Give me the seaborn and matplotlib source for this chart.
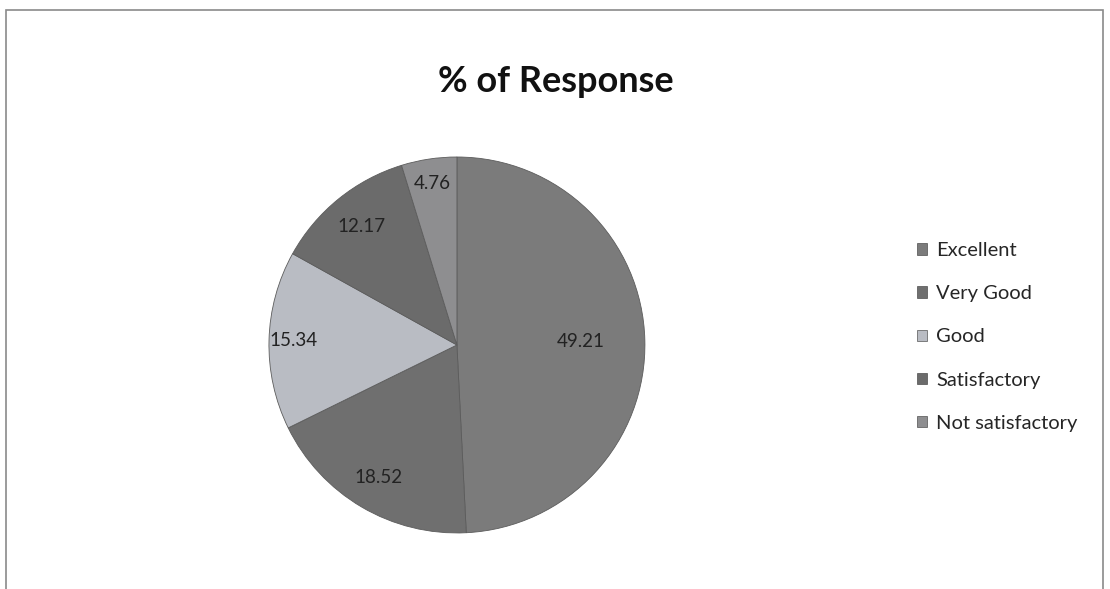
import numpy as np
import matplotlib
matplotlib.use("Agg")
import matplotlib.pyplot as plt
import matplotlib.patches as mpatches
import seaborn as sns

categories = ["Excellent", "Very Good", "Good", "Satisfactory", "Not satisfactory"]
values = [49.21, 18.52, 15.34, 12.17, 4.76]
colors = ["#7b7b7b", "#6f6f6f", "#b9bcc3", "#6b6b6b", "#8e8e90"]
label_r = [0.66, 0.82, 0.87, 0.81, 0.87]

sns.set_theme(style="white")
plt.rcParams['font.family'] = ['Lato', 'DejaVu Sans']

fig = plt.figure(figsize=(11.1, 5.89), dpi=100)
# chart frame
fig.patches.append(mpatches.Rectangle((0.005, -0.01), 0.989, 0.993, transform=fig.transFigure,
                                      fill=False, edgecolor="#8a8a8a", linewidth=1.2))

ax = fig.add_axes([0.2423, 0.0951, 0.3387, 0.6384])
wedges, _ = ax.pie(values, colors=colors, startangle=90, counterclock=False,
                   wedgeprops={"edgecolor": "#5c5c5c", "linewidth": 0.6})
ax.set_xlim(-1, 1)
ax.set_ylim(-1, 1)
ax.set_aspect("equal")
ax.axis("off")

for w, v, r in zip(wedges, values, label_r):
    ang = np.deg2rad((w.theta1 + w.theta2) / 2)
    ax.text(r * np.cos(ang), r * np.sin(ang), f"{v:.2f}", ha="center", va="center",
            fontsize=13.5, color="#222222")

fig.text(0.501, 0.862, "% of Response", ha="center", va="center",
         fontsize=26, fontweight="bold", color="#111111")

handles = [mpatches.Patch(facecolor=c, edgecolor="#333333", linewidth=0.4) for c in colors]
leg = fig.legend(handles, categories, loc="center left", bbox_to_anchor=(0.81, 0.428),
                 frameon=False, fontsize=14.5, handlelength=0.5, handleheight=0.5,
                 handletextpad=0.45, labelspacing=1.3)

fig.savefig("out.png", dpi=100)
